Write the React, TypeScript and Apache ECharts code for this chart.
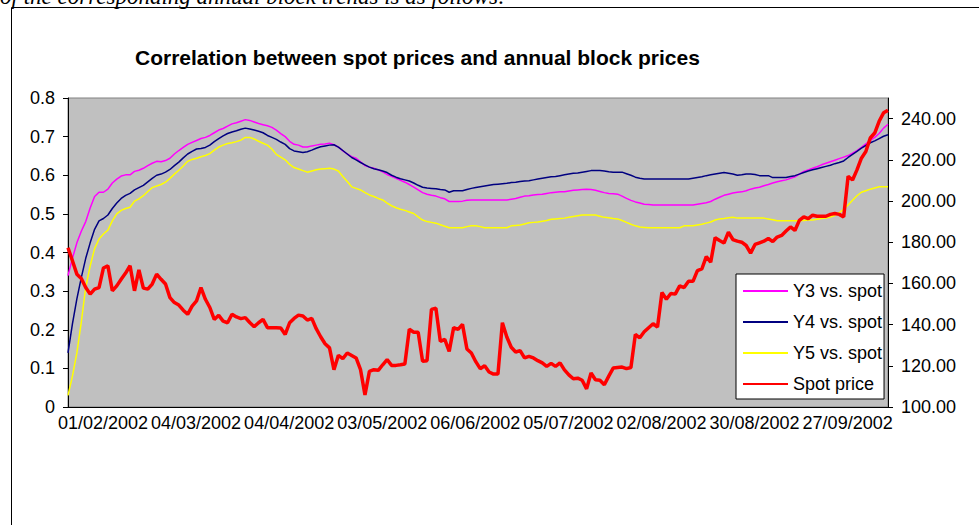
import React, { useEffect, useRef } from 'react';
import * as echarts from 'echarts';

const tickLabels = [
  '01/02/2002', '04/03/2002', '04/04/2002', '03/05/2002', '06/06/2002',
  '05/07/2002', '02/08/2002', '30/08/2002', '27/09/2002',
];
const labelEvery = 21;

const seriesNames = ['Y3 vs. spot', 'Y4 vs. spot', 'Y5 vs. spot', 'Spot price'];
const seriesColors = ['#FF00FF', '#000080', '#FFFF00', '#FF0000'];

const y3 = [
  0.34, 0.385, 0.425, 0.455, 0.48, 0.515, 0.545, 0.556, 0.556, 0.564,
  0.58, 0.59, 0.598, 0.601, 0.601, 0.61, 0.613, 0.618, 0.625, 0.631,
  0.636, 0.635, 0.638, 0.644, 0.655, 0.664, 0.672, 0.68, 0.685, 0.69,
  0.695, 0.698, 0.703, 0.71, 0.717, 0.721, 0.727, 0.733, 0.736, 0.74,
  0.744, 0.742, 0.738, 0.734, 0.731, 0.728, 0.724, 0.717, 0.708, 0.7,
  0.688, 0.68, 0.678, 0.673, 0.673, 0.676, 0.678, 0.68, 0.681, 0.683,
  0.679, 0.673, 0.663, 0.655, 0.648, 0.644, 0.635, 0.625, 0.621, 0.618,
  0.614, 0.609, 0.602, 0.597, 0.592, 0.587, 0.582, 0.576, 0.569, 0.562,
  0.555, 0.551, 0.548, 0.546, 0.542, 0.539, 0.532, 0.532, 0.532, 0.533,
  0.535, 0.536, 0.536, 0.536, 0.536, 0.536, 0.536, 0.536, 0.536, 0.536,
  0.538, 0.54, 0.543, 0.546, 0.547, 0.549, 0.55, 0.551, 0.553, 0.555,
  0.556, 0.557, 0.557, 0.559, 0.561, 0.562, 0.563, 0.564, 0.563, 0.561,
  0.558, 0.555, 0.553, 0.552, 0.551, 0.546, 0.54, 0.535, 0.531, 0.528,
  0.525, 0.524, 0.523, 0.523, 0.523, 0.523, 0.523, 0.523, 0.523, 0.523,
  0.523, 0.523, 0.525, 0.527, 0.529, 0.532, 0.538, 0.543, 0.548, 0.551,
  0.554, 0.556, 0.557, 0.56, 0.564, 0.567, 0.569, 0.573, 0.576, 0.58,
  0.583, 0.586, 0.588, 0.592, 0.596, 0.603, 0.61, 0.614, 0.618, 0.622,
  0.627, 0.631, 0.635, 0.639, 0.643, 0.647, 0.651, 0.657, 0.664, 0.672,
  0.681, 0.69, 0.698, 0.708, 0.722, 0.732,
];

const y4 = [
  0.14, 0.215, 0.28, 0.335, 0.385, 0.425, 0.46, 0.482, 0.488, 0.497,
  0.514, 0.528, 0.54, 0.548, 0.553, 0.562, 0.568, 0.574, 0.583, 0.592,
  0.6, 0.603, 0.608, 0.615, 0.625, 0.634, 0.645, 0.655, 0.662, 0.668,
  0.669, 0.672, 0.678, 0.687, 0.695, 0.702, 0.708, 0.712, 0.715, 0.719,
  0.722, 0.72, 0.717, 0.714, 0.71, 0.703, 0.698, 0.693, 0.686, 0.68,
  0.669, 0.663, 0.661, 0.659, 0.661, 0.665, 0.67, 0.674, 0.676, 0.678,
  0.679, 0.673, 0.664, 0.655, 0.646, 0.64, 0.633, 0.627, 0.621, 0.617,
  0.614, 0.611, 0.607, 0.6, 0.595, 0.591, 0.588, 0.585, 0.58, 0.574,
  0.569, 0.567, 0.566, 0.565, 0.563, 0.562, 0.556, 0.56, 0.56, 0.56,
  0.563, 0.566, 0.568, 0.57, 0.572, 0.574, 0.576, 0.577, 0.578, 0.579,
  0.581, 0.582, 0.584, 0.585, 0.586, 0.588, 0.59, 0.592, 0.594, 0.596,
  0.597, 0.599, 0.601, 0.603, 0.605, 0.606, 0.608, 0.61, 0.612, 0.612,
  0.612, 0.611, 0.609, 0.608, 0.608, 0.608, 0.604, 0.6, 0.595, 0.592,
  0.59, 0.59, 0.59, 0.59, 0.59, 0.59, 0.59, 0.59, 0.59, 0.59,
  0.59, 0.592, 0.594, 0.596, 0.599, 0.601, 0.603, 0.605, 0.607, 0.605,
  0.603, 0.6, 0.601, 0.603, 0.603, 0.602, 0.599, 0.599, 0.599, 0.594,
  0.594, 0.594, 0.594, 0.597, 0.599, 0.603, 0.607, 0.611, 0.614, 0.617,
  0.62, 0.623, 0.626, 0.63, 0.633, 0.637, 0.646, 0.654, 0.662, 0.67,
  0.677, 0.684, 0.689, 0.695, 0.701, 0.705,
];

const y5 = [
  0.03, 0.08, 0.14, 0.22, 0.31, 0.365, 0.41, 0.435, 0.448, 0.458,
  0.482, 0.5, 0.509, 0.514, 0.517, 0.533, 0.539, 0.547, 0.558, 0.568,
  0.572, 0.576, 0.582, 0.592, 0.603, 0.613, 0.624, 0.636, 0.641, 0.644,
  0.648, 0.651, 0.656, 0.665, 0.673, 0.678, 0.682, 0.684, 0.687, 0.691,
  0.698, 0.698, 0.694, 0.688, 0.683, 0.678, 0.668, 0.654, 0.647, 0.64,
  0.628, 0.62, 0.616, 0.612, 0.608, 0.611, 0.614, 0.616, 0.617, 0.618,
  0.616, 0.611, 0.597, 0.584, 0.57, 0.566, 0.562, 0.555, 0.549, 0.545,
  0.54, 0.536, 0.528, 0.521, 0.516, 0.512, 0.509, 0.505, 0.501, 0.492,
  0.484, 0.48, 0.478, 0.476, 0.472, 0.468, 0.464, 0.464, 0.464, 0.464,
  0.467, 0.469, 0.469, 0.467, 0.464, 0.464, 0.464, 0.464, 0.464, 0.464,
  0.469, 0.47, 0.471, 0.474, 0.477, 0.478, 0.479, 0.481, 0.483, 0.486,
  0.487, 0.488, 0.489, 0.491, 0.493, 0.495, 0.497, 0.497, 0.497, 0.497,
  0.494, 0.491, 0.49, 0.488, 0.487, 0.483, 0.478, 0.473, 0.469, 0.466,
  0.465, 0.464, 0.464, 0.464, 0.464, 0.464, 0.464, 0.464, 0.464, 0.469,
  0.469, 0.469, 0.471, 0.473, 0.476, 0.479, 0.484, 0.487, 0.488, 0.49,
  0.491, 0.489, 0.489, 0.489, 0.489, 0.489, 0.489, 0.489, 0.487, 0.485,
  0.482, 0.482, 0.482, 0.482, 0.482, 0.482, 0.483, 0.484, 0.484, 0.486,
  0.488, 0.489, 0.492, 0.496, 0.503, 0.512, 0.523, 0.535, 0.547, 0.556,
  0.56, 0.564, 0.567, 0.57, 0.57, 0.57,
];

const spot = [
  177.3, 171, 164.5, 162.4, 158, 154.8, 157.2, 158, 167.5, 168.6,
  156.4, 158.8, 162, 165, 168.6, 156.4, 166.6, 157.7, 157.2, 159.7,
  164.5, 162, 159.7, 153.1, 150.7, 149.5, 147, 145, 149, 151.5,
  158, 152.3, 148.3, 142.5, 144.5, 141.7, 140.9, 145, 143.7, 142.9,
  143.4, 141, 139, 140.9, 142.5, 138.5, 138.5, 138.5, 138.3, 135.2,
  140.9, 143, 144.6, 144.2, 142.2, 143, 138, 134.1, 130.7, 128.7,
  118.1, 125.1, 123.5, 126.2, 125, 123.8, 118.1, 105.9, 117.3, 118.1,
  117.8, 120.5, 123, 120.2, 120.2, 120.5, 120.9, 137.7, 136.3, 136.3,
  122.2, 122.5, 147.4, 147.9, 131.9, 132.8, 127, 138.5, 137.7, 140.1,
  128.2, 126.2, 122, 118.6, 120, 117, 116, 116, 140.9, 134,
  129, 126.7, 127.4, 123.8, 124.6, 123.8, 122.5, 121.4, 119.7, 121.2,
  119.7, 121.4, 118, 115.6, 113.7, 114, 113, 108.8, 116.5, 113.2,
  113, 110.8, 115, 118.9, 119.2, 119.4, 118.6, 119.2, 135.2, 133.6,
  136.5, 138.5, 140.4, 138.8, 155.6, 152.3, 155.1, 154.8, 158.8, 158,
  161, 161, 166.2, 167, 173, 170.3, 182.2, 180.8, 179.6, 184.9,
  181.3, 180.5, 180, 178.4, 174.7, 178.9, 179.7, 180.5, 181.8, 180.3,
  182.5, 183.3, 185.4, 187.4, 185.7, 190.6, 192.3, 191.4, 193.1, 192.6,
  192.6, 192.6, 193.5, 193.9, 193.5, 192.3, 212, 210.2, 215.1, 220.8,
  224, 230.6, 233, 238.7, 242.8, 244,
];

const spotTicks = [100, 120, 140, 160, 180, 200, 220, 240];

const FONT = '"Liberation Sans", Arial, sans-serif';

export default function App() {
  const ref = useRef<HTMLDivElement>(null);

  useEffect(() => {
    if (!ref.current) return;
    const chart = echarts.init(ref.current, null, { renderer: 'svg' });
    const days = spot.map((_, i) => String(i));
    const allSeries = [y3, y4, y5, spot];

    chart.setOption({
      animation: false,
      textStyle: { fontFamily: FONT },
      title: {
        text: 'Correlation between spot prices and annual block prices',
        left: 135,
        top: 47,
        padding: 0,
        textStyle: { fontSize: 21, fontWeight: 'bold', color: '#000', fontFamily: FONT },
      },
      legend: {
        orient: 'vertical',
        left: 736,
        top: 274,
        padding: [8, 2, 6, 6],
        itemGap: 13,
        itemWidth: 45,
        itemHeight: 14,
        backgroundColor: '#fff',
        borderColor: '#000',
        borderWidth: 1,
        selectedMode: false,
        itemStyle: { color: 'rgba(0,0,0,0)', borderColor: 'rgba(0,0,0,0)', borderWidth: 0 },
        textStyle: { fontSize: 18, color: '#000', lineHeight: 18, fontFamily: FONT },
        data: seriesNames,
      },
      grid: {
        left: 68,
        right: 91,
        top: 98,
        bottom: 118,
        show: true,
        backgroundColor: '#C0C0C0',
        borderColor: '#808080',
        borderWidth: 1,
      },
      xAxis: {
        type: 'category',
        data: days,
        boundaryGap: false,
        axisLine: { lineStyle: { color: '#000', width: 1 } },
        axisTick: { show: false },
        splitLine: { show: false },
        axisLabel: {
          interval: labelEvery - 1,
          fontSize: 18,
          color: '#000',
          margin: 7,
          padding: [0, 0, 0, 70],
          fontFamily: FONT,
          formatter: (_v: string, i: number) =>
            i % labelEvery === 0 ? tickLabels[i / labelEvery] ?? '' : '',
        },
      },
      yAxis: [
        {
          type: 'value',
          position: 'left',
          min: 0,
          max: 0.8,
          interval: 0.1,
          axisLine: { show: true, lineStyle: { color: '#000', width: 1 } },
          axisTick: { show: true, length: 5, lineStyle: { color: '#000' } },
          splitLine: { show: false },
          axisLabel: {
            fontSize: 18,
            color: '#000',
            margin: 13,
            fontFamily: FONT,
            formatter: (v: number) => String(Math.round(v * 10) / 10),
          },
        },
        {
          type: 'value',
          position: 'right',
          min: 100,
          max: 250,
          interval: 10,
          axisLine: { show: true, lineStyle: { color: '#000', width: 1 } },
          axisTick: { show: true, length: 5, lineStyle: { color: '#000' }, customValues: spotTicks },
          splitLine: { show: false },
          axisLabel: {
            fontSize: 18,
            color: '#000',
            margin: 13,
            fontFamily: FONT,
            customValues: spotTicks,
            formatter: (v: number) => v.toFixed(2),
          },
        },
      ],
      graphic: [
        {
          type: 'rect',
          silent: true,
          z: 100,
          shape: { x: 11.5, y: 7.5, width: 1000, height: 600 },
          style: { fill: 'none', stroke: '#000', lineWidth: 1 },
        },
        {
          type: 'text',
          silent: true,
          x: 0,
          y: 8,
          style: {
            text: 'of the corresponding annual block trends is as follows:',
            font: 'italic 23px "Liberation Serif", "Times New Roman", serif',
            fill: '#000',
            verticalAlign: 'bottom',
          },
        },
      ],
      series: seriesNames.map((name, k) => ({
        name,
        type: 'line',
        data: allSeries[k],
        yAxisIndex: k === 3 ? 1 : 0,
        symbol: 'none',
        z: k === 3 ? 3 : 2,
        lineStyle: { color: seriesColors[k], width: k === 3 ? 3.5 : 1.5 },
        itemStyle: { color: seriesColors[k] },
      })),
    });

    return () => chart.dispose();
  }, []);

  return (
    <div
      ref={ref}
      style={{ position: 'fixed', left: 0, top: 0, width: 979, height: 525, background: '#fff' }}
    />
  );
}
